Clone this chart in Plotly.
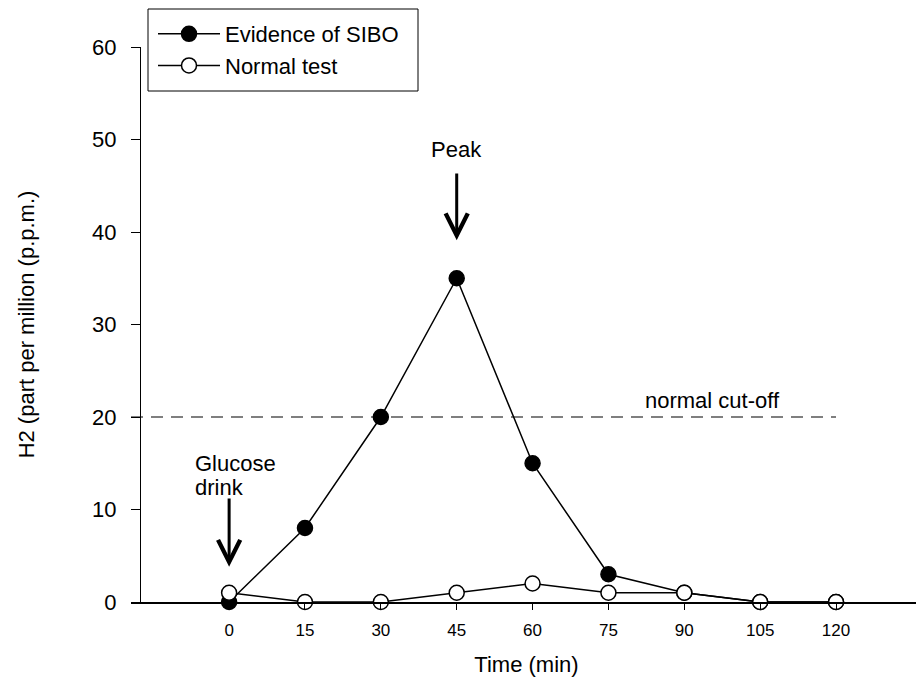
import plotly.graph_objects as go

time_min = [0, 15, 30, 45, 60, 75, 90, 105, 120]
sibo = [0, 8, 20, 35, 15, 3, 1, 0, 0]
normal = [1, 0, 0, 1, 2, 1, 1, 0, 0]
cutoff = 20
y_ticks = [0, 10, 20, 30, 40, 50, 60]

FONT = "Liberation Sans, Arial, sans-serif"
X_RANGE = [-19.4, 137]

fig = go.Figure()
fig.add_trace(go.Scatter(
    x=time_min, y=sibo, name="Evidence of SIBO", mode="lines+markers",
    line=dict(color="black", width=1.5),
    marker=dict(symbol="circle", size=15, color="black", line=dict(color="black", width=1.5)),
    cliponaxis=False,
))
fig.add_trace(go.Scatter(
    x=time_min, y=normal, name="Normal test", mode="lines+markers",
    line=dict(color="black", width=1.5),
    marker=dict(symbol="circle", size=15, color="white", line=dict(color="black", width=1.5)),
    cliponaxis=False,
))

# cut-off line
fig.add_shape(type="line", xref="x", yref="y", x0=X_RANGE[0], x1=120, y0=cutoff, y1=cutoff,
              line=dict(color="black", width=1.2, dash="12px,8px"))
fig.add_annotation(x=95.5, y=cutoff, yshift=17, text="normal cut-off", showarrow=False,
                   font=dict(size=22, family=FONT, color="black"))

# Peak
fig.add_annotation(x=45, y=39.1, ax=45, ay=46.5, axref="x", ayref="y",
                   xref="x", yref="y", text="", showarrow=True, arrowhead=5,
                   arrowsize=1.45, arrowwidth=3, arrowcolor="black")
fig.add_annotation(x=45, y=48.9, text="Peak", showarrow=False,
                   font=dict(size=22, family=FONT, color="black"))

# Glucose drink
fig.add_annotation(x=0, y=3.8, ax=0, ay=11.35, axref="x", ayref="y",
                   xref="x", yref="y", text="", showarrow=True, arrowhead=5,
                   arrowsize=1.45, arrowwidth=3, arrowcolor="black")
fig.add_annotation(x=-7.1, y=15.0, text="Glucose", showarrow=False, xanchor="left",
                   font=dict(size=22, family=FONT, color="black"))
fig.add_annotation(x=-7.1, y=12.4, text="drink", showarrow=False, xanchor="left",
                   font=dict(size=22, family=FONT, color="black"))

# legend frame
fig.add_shape(type="rect", xref="paper", yref="paper",
              x0=(148 - 131) / 791, x1=(418 - 131) / 791,
              y0=1 + (47 - 91) / 555, y1=1 + (47 - 9) / 555,
              line=dict(color="black", width=1), fillcolor="rgba(0,0,0,0)")

fig.update_layout(
    width=916, height=680,
    margin=dict(l=123, r=2, t=39, b=86),
    paper_bgcolor="white", plot_bgcolor="white",
    font=dict(family=FONT, color="black"),
    showlegend=True,
    legend=dict(x=(153 - 131) / 791, y=1 + (47 - 13) / 555, xanchor="left", yanchor="top",
                borderwidth=0, bgcolor="rgba(0,0,0,0)", itemwidth=62,
                font=dict(size=22, family=FONT, color="black"),
                tracegroupgap=0),
    xaxis=dict(
        range=X_RANGE, tickvals=time_min, ticktext=[str(t) for t in time_min],
        showgrid=False, zeroline=False, showline=True, linecolor="black", linewidth=1.5,
        ticks="outside", ticklen=6, tickcolor="black", tickwidth=1,
        tickfont=dict(size=17, family=FONT), ticklabelstandoff=6,
        title=dict(text="Time (min)", font=dict(size=22, family=FONT), standoff=17),
    ),
    yaxis=dict(
        range=[0, 60], tickvals=y_ticks, anchor="free", position=9 / 791,
        showgrid=False, zeroline=False, showline=True, linecolor="black", linewidth=1,
        ticks="outside", ticklen=9, tickcolor="black", tickwidth=1,
        tickfont=dict(size=22, family=FONT), ticklabelstandoff=10,
        title=dict(text="H2 (part per million (p.p.m.)", font=dict(size=22, family=FONT), standoff=50),
    ),
)

fig.write_html("out.html")
